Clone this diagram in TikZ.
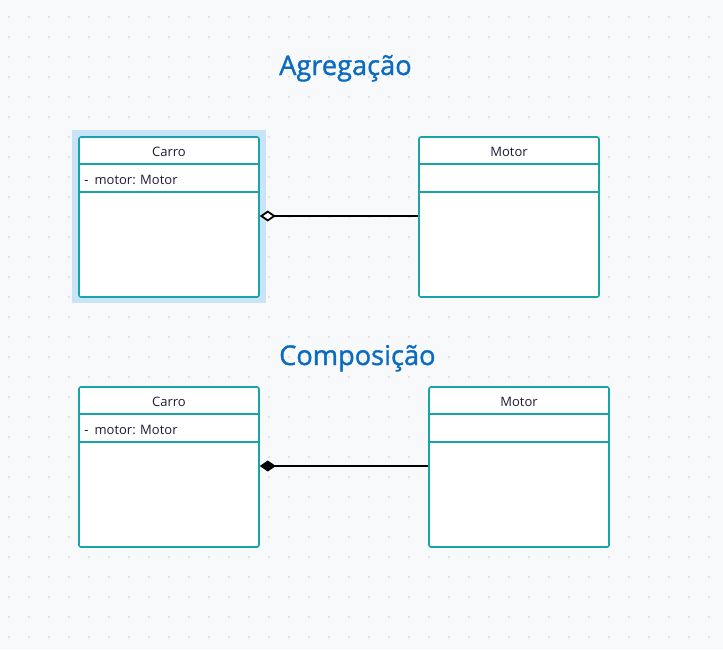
\documentclass[tikz,border=0pt]{standalone}
\usepackage{fontspec}
\setmainfont{Open Sans}
\newfontfamily\titulofont[FakeBold=1.2]{Open Sans}
\usetikzlibrary{arrows.meta}

\definecolor{fundo}{HTML}{F8F9FB}
\definecolor{ponto}{HTML}{D9DCE2}
\definecolor{borda}{HTML}{19A4A7}
\definecolor{selecao}{HTML}{C9E4F7}
\definecolor{azul}{HTML}{0A6BC0}
\definecolor{escuro}{HTML}{1C1C3A}

\begin{document}
\begin{tikzpicture}[x=1pt,y=-1pt,
  classe/.style={draw=borda, line width=1.6pt, fill=white, rounded corners=2pt,
    minimum width=180pt, minimum height=160pt, inner sep=0pt},
  divisao/.style={draw=borda, line width=1.6pt},
  rotulo/.style={text=escuro, font=\fontsize{13}{15}\selectfont, inner sep=0pt},
  titulo/.style={text=azul, font=\titulofont\fontsize{27.2}{30}\selectfont, inner sep=0pt, anchor=base west},
  ligacao/.style={line width=1.8pt, black}]

\fill [fundo] (0,0) rectangle (723,649);
\useasboundingbox (0,0) rectangle (723,649);
\foreach \x in {9,29,...,709}
  \foreach \y in {17,37,...,637}
    \fill [ponto] (\x,\y) circle (1.1pt);

% agregacao
\node [titulo] (tituloAgreg) at (279,75) {Agregação};
\fill [selecao] (72,130) rectangle (266,303);
\node [classe] (carroA) at (169,217) {};
\node [classe] (motorA) at (509,217) {};

\draw [divisao] ([yshift=-28pt]carroA.north west) -- ([yshift=-28pt]carroA.north east);
\draw [divisao] ([yshift=-56pt]carroA.north west) -- ([yshift=-56pt]carroA.north east);
\draw [divisao] ([yshift=-28pt]motorA.north west) -- ([yshift=-28pt]motorA.north east);
\draw [divisao] ([yshift=-56pt]motorA.north west) -- ([yshift=-56pt]motorA.north east);

\node [rotulo] (nomeCarroA) at ([yshift=-15.5pt]carroA.north) {Carro};
\node [rotulo, anchor=west] (atribCarroA) at ([xshift=6pt,yshift=-43.5pt]carroA.north west) {-\hspace{6pt}motor: Motor};
\node [rotulo] (nomeMotorA) at ([yshift=-15.5pt]motorA.north) {Motor};

\draw [ligacao, {Diamond[open,length=16pt,width=11pt,fill=white]}-] ([yshift=1pt]carroA.east) -- ([yshift=1pt]motorA.west);

% composicao
\node [titulo] (tituloComp) at (279,365) {Composição};
\node [classe] (carroC) at (169,467) {};
\node [classe] (motorC) at (519,467) {};

\draw [divisao] ([yshift=-28pt]carroC.north west) -- ([yshift=-28pt]carroC.north east);
\draw [divisao] ([yshift=-56pt]carroC.north west) -- ([yshift=-56pt]carroC.north east);
\draw [divisao] ([yshift=-28pt]motorC.north west) -- ([yshift=-28pt]motorC.north east);
\draw [divisao] ([yshift=-56pt]motorC.north west) -- ([yshift=-56pt]motorC.north east);

\node [rotulo] (nomeCarroC) at ([yshift=-15.5pt]carroC.north) {Carro};
\node [rotulo, anchor=west] (atribCarroC) at ([xshift=6pt,yshift=-43.5pt]carroC.north west) {-\hspace{6pt}motor: Motor};
\node [rotulo] (nomeMotorC) at ([yshift=-15.5pt]motorC.north) {Motor};

\draw [ligacao, {Diamond[length=16pt,width=11pt]}-] ([yshift=1pt]carroC.east) -- ([yshift=1pt]motorC.west);
\end{tikzpicture}
\end{document}
